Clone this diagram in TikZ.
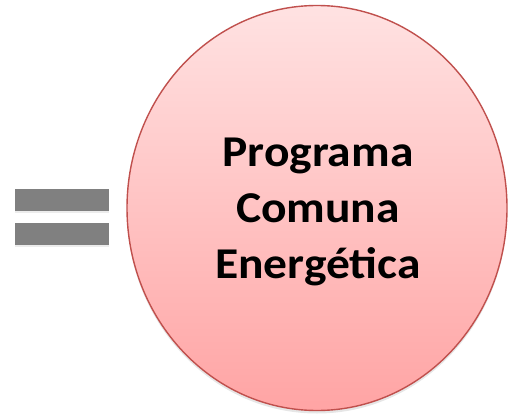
\documentclass[tikz,border=0pt]{standalone}
\usepackage{fontspec}
\newfontfamily\calibri{Carlito}
\usetikzlibrary{shapes.geometric,shadows}
\definecolor{bordered}{HTML}{C0504D}
\definecolor{pinktop}{HTML}{FFE2E2}
\definecolor{pinkmid}{HTML}{FFC6C6}
\definecolor{pinkbottom}{HTML}{FFA4A4}
\definecolor{bargray}{HTML}{808080}
\tikzset{
  bar/.style={rectangle,fill=bargray,minimum width=94pt,minimum height=22pt,inner sep=0pt,
    drop shadow={opacity=0.15,shadow xshift=0pt,shadow yshift=-2pt}},
  bubble/.style={ellipse,draw=bordered,line width=1.4pt,top color=pinktop,middle color=pinkmid,
    bottom color=pinkbottom,minimum width=380pt,minimum height=405pt,inner sep=0pt,
    drop shadow={opacity=0.2,shadow xshift=0pt,shadow yshift=-3pt}},
  label/.style={align=center,font=\calibri\bfseries\fontsize{44}{56}\selectfont,
    inner sep=0pt,xscale=1.08,transform shape}
}
\begin{document}
\begin{tikzpicture}[x=1pt,y=-1pt]
\useasboundingbox (0,0) rectangle (508,414);

% equals sign
\node[bar] (bartop) at (62,200) {};
\node[bar] (barbottom) at (62,234) {};

% the circle
\node[bubble] (comuna) at (317,208) {};
\node[label,anchor=base] (title) at (318,278) {Programa\\Comuna\\Energética};
\end{tikzpicture}
\end{document}
